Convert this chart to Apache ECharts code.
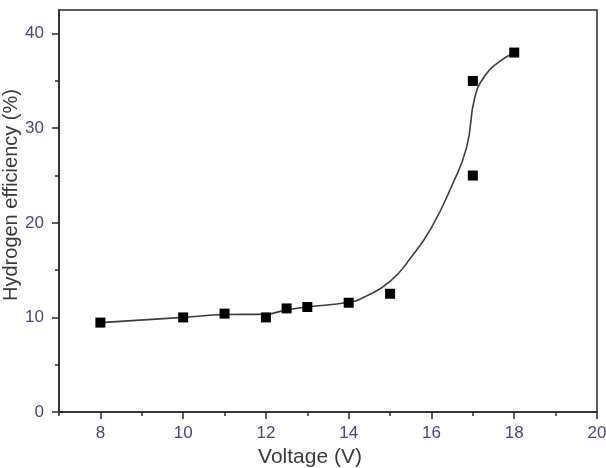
<!DOCTYPE html>
<html>
<head>
<meta charset="utf-8">
<script src="https://cdn.jsdelivr.net/npm/echarts@6/dist/echarts.min.js"></script>
<style>html,body{margin:0;padding:0;background:#fff}#c{width:606px;height:468px}</style>
</head>
<body>
<div id="c"></div>
<script>
// Measured points
var voltage = [8, 10, 11, 12, 12.5, 13, 14, 15, 17, 17, 18];
var efficiency = [9.45, 10.0, 10.4, 10.0, 10.95, 11.1, 11.55, 12.5, 35.0, 25.0, 38.0];
// Fitted curve
var fitX = [8, 10, 11, 12, 12.5, 13, 14, 14.4, 15, 15.5, 16, 16.5, 16.85, 17.05, 17.3, 17.6, 18];
var fitY = [9.45, 10.0, 10.3, 10.35, 10.8, 11.1, 11.6, 12.2, 13.8, 16.3, 19.5, 24.0, 28.0, 33.3, 35.6, 36.9, 38.0];
// Ticks
var xMajorTicks = [8, 10, 12, 14, 16, 18, 20];
var xMinorTicks = [7, 9, 11, 13, 15, 17, 19];
var yMajorTicks = [0, 10, 20, 30, 40];
var yMinorTicks = [5, 15, 25, 35];

function pairs(xs, ys) { return xs.map(function (x, i) { return [x, ys[i]]; }); }

var labelColor = '#54427a';
var lineColor = '#2a2a2a';
var font = 'Liberation Sans, Arial, sans-serif';

var chart = echarts.init(document.getElementById('c'));
chart.setOption({
  animation: false,
  backgroundColor: '#fff',
  grid: { left: 59, top: 10, right: 9, bottom: 56, containLabel: false, outerBoundsMode: 'none',
          show: true, borderColor: lineColor, borderWidth: 1.5, backgroundColor: 'transparent' },
  xAxis: [{
    type: 'value', min: 7, max: 20,
    name: 'Voltage (V)', nameLocation: 'middle', nameGap: 35, nameMoveOverlap: false,
    nameTextStyle: { color: '#3a3a3a', fontSize: 21, fontFamily: font, padding: [0, 36, 0, 0] },
    axisLine: { show: true, lineStyle: { color: lineColor, width: 1.5 } },
    axisTick: { show: true, customValues: xMajorTicks, length: 7, lineStyle: { color: lineColor, width: 1.5 } },
    axisLabel: { customValues: xMajorTicks, color: labelColor, fontSize: 17, fontFamily: font, margin: 13 },
    splitLine: { show: false }
  }, {
    type: 'value', min: 7, max: 20, position: 'bottom',
    axisLine: { show: false },
    axisTick: { show: true, customValues: xMinorTicks, length: 4, lineStyle: { color: lineColor, width: 1.5 } },
    axisLabel: { show: false },
    splitLine: { show: false }
  }],
  yAxis: [{
    type: 'value', min: 0, max: 42.5,
    name: 'Hydrogen efficiency (%)', nameLocation: 'middle', nameGap: 38, nameRotate: 90, nameMoveOverlap: false,
    nameTextStyle: { color: '#3a3a3a', fontSize: 20, fontFamily: font, padding: [0, 0, 0, 32] },
    axisLine: { show: true, lineStyle: { color: lineColor, width: 1.5 } },
    axisTick: { show: true, customValues: yMajorTicks, length: 7, lineStyle: { color: lineColor, width: 1.5 } },
    axisLabel: { customValues: yMajorTicks, color: labelColor, fontSize: 17, fontFamily: font, margin: 15 },
    splitLine: { show: false }
  }, {
    type: 'value', min: 0, max: 42.5, position: 'left',
    axisLine: { show: false },
    axisTick: { show: true, customValues: yMinorTicks, length: 4, lineStyle: { color: lineColor, width: 1.5 } },
    axisLabel: { show: false },
    splitLine: { show: false }
  }],
  series: [{
    type: 'line', data: pairs(fitX, fitY), smooth: 0.5, showSymbol: false,
    lineStyle: { color: '#3c3c3c', width: 1.6 }, z: 2
  }, {
    type: 'scatter', data: pairs(voltage, efficiency), symbol: 'rect', symbolSize: 10,
    itemStyle: { color: '#000', opacity: 1 }, z: 3
  }]
});
</script>
</body>
</html>
